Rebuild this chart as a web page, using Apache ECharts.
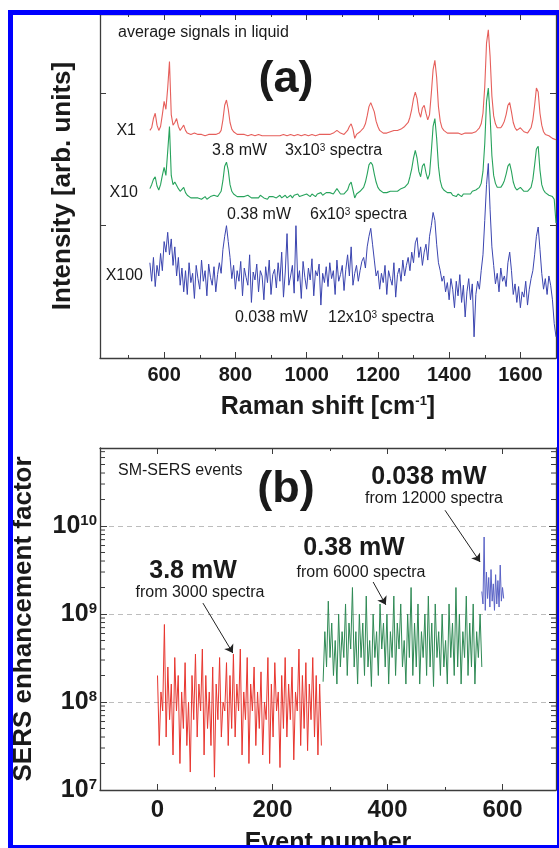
<!DOCTYPE html>
<html>
<head>
<meta charset="utf-8">
<title>SERS spectra and SM-SERS events</title>
<script src="https://cdn.jsdelivr.net/npm/echarts@6.0.0/dist/echarts.min.js"></script>
<style>
  html, body { margin: 0; padding: 0; background: #fff; }
  #main { width: 559px; height: 848px; }
</style>
</head>
<body>
<div id="main"></div>
<script>
// ---- (a) average spectra, one value every 5 cm-1 from 560 to 1700 ----
const shiftStart = 560;
const shiftStep = 5;

const spec1mW = [
  172, 174, 181, 185, 176, 172, 175, 184, 194, 188,
  204, 224, 184, 176, 178, 181, 175, 172, 174, 176,
  172, 170, 169, 169, 169, 170, 169, 169, 168, 169,
  169, 168, 169, 169, 168, 169, 170, 169, 169, 170,
  172, 180, 191, 195, 188, 178, 173, 171, 170, 169,
  169, 169, 168, 169, 169, 168, 168, 169, 168, 168,
  168, 169, 168, 168, 167, 168, 168, 168, 167, 168,
  168, 168, 167, 168, 168, 169, 168, 168, 168, 169,
  168, 168, 168, 169, 168, 168, 168, 169, 168, 168,
  168, 169, 168, 168, 169, 169, 168, 169, 169, 169,
  169, 169, 170, 170, 170, 172, 172, 170, 169, 169,
  170, 172, 175, 177, 173, 166, 169, 170, 171, 172,
  174, 177, 183, 190, 193, 192, 186, 179, 175, 172,
  171, 170, 170, 170, 171, 171, 171, 172, 172, 172,
  173, 173, 174, 175, 176, 178, 182, 188, 196, 201,
  196, 186, 182, 189, 191, 185, 180, 184, 200, 218,
  225, 212, 190, 179, 174, 172, 171, 170, 170, 170,
  170, 170, 169, 170, 170, 169, 170, 170, 170, 170,
  171, 170, 171, 171, 172, 174, 177, 185, 205, 238,
  248, 228, 198, 183, 177, 174, 173, 174, 176, 179,
  184, 191, 193, 186, 178, 174, 172, 173, 174, 173,
  171, 170, 170, 171, 174, 180, 191, 204, 201, 185,
  176, 171, 169, 168, 168, 167, 166, 166, 165
];

const spec10 = [
  128, 131, 135, 137, 130, 127, 131, 138, 144, 138,
  156, 175, 138, 131, 133, 132, 128, 126, 127, 129,
  125, 123, 122, 121, 122, 121, 120, 121, 122, 120,
  121, 122, 120, 121, 122, 121, 123, 122, 122, 124,
  126, 134, 145, 148, 142, 131, 126, 124, 123, 122,
  121, 122, 123, 122, 121, 123, 122, 121, 122, 121,
  122, 121, 123, 122, 121, 122, 120, 122, 121, 122,
  123, 121, 122, 123, 121, 122, 123, 121, 122, 123,
  121, 123, 122, 124, 122, 121, 123, 122, 124, 123,
  122, 124, 123, 122, 124, 123, 125, 123, 124, 125,
  124, 125, 126, 124, 125, 128, 126, 124, 123, 124,
  125, 127, 131, 133, 127, 121, 124, 125, 126, 127,
  129, 133, 139, 146, 148, 146, 139, 133, 129, 127,
  126, 125, 124, 125, 124, 126, 125, 126, 127, 126,
  127, 128, 127, 129, 130, 132, 137, 143, 151, 157,
  151, 141, 137, 145, 147, 140, 135, 139, 156, 175,
  181, 166, 145, 134, 129, 127, 126, 125, 124, 125,
  123, 124, 122, 124, 123, 122, 124, 123, 124, 125,
  124, 126, 125, 127, 127, 129, 132, 141, 162, 194,
  204, 183, 153, 138, 132, 129, 128, 129, 131, 134,
  139, 145, 147, 141, 133, 129, 127, 128, 129, 128,
  126, 125, 126, 127, 129, 135, 146, 158, 160, 142,
  131, 127, 125, 124, 123, 123, 122, 120, 102
];

const spec100 = [
  72, 58, 76, 54, 70, 62, 79, 66, 88, 80,
  95, 78, 90, 70, 84, 62, 76, 55, 68, 50,
  66, 48, 72, 57, 64, 45, 70, 60, 52, 74,
  58, 66, 47, 71, 61, 55, 69, 50, 63, 72,
  64, 82, 92, 100, 88, 76, 60, 70, 52, 66,
  58, 73, 47, 68, 61, 55, 78, 42, 65, 59,
  71, 50, 66, 62, 44, 69, 57, 74, 48, 63,
  67, 53, 72, 58, 80, 46, 65, 94, 55, 62,
  70, 49, 100, 58, 66, 45, 73, 61, 52, 68,
  59, 75, 47, 66, 62, 71, 40, 64, 57, 69,
  54, 72, 60, 66, 48, 74, 58, 63, 70, 51,
  67, 78, 62, 84, 55, 64, 70, 58, 66, 73,
  76, 68, 84, 92, 98, 86, 74, 62, 66, 52,
  64, 57, 70, 48, 66, 60, 55, 72, 46, 63,
  68, 58, 74, 62, 70, 76, 66, 80, 72, 87,
  91, 76, 84, 70, 80, 86, 74, 92, 100, 110,
  104, 86, 72, 66, 58, 62, 50, 57, 44, 60,
  52, 38, 58, 47, 63, 42, 55, 31, 50, 60,
  44, 56, 16, 48, 58, 52, 66, 78, 104, 131,
  147, 112, 84, 70, 56, 64, 50, 68, 58, 62,
  54, 72, 80, 66, 48, 56, 42, 54, 38, 50,
  46, 58, 40, 52, 60, 66, 78, 92, 99, 82,
  64, 52, 60, 48, 62, 55, 44, 26, 16
];

// ---- (b) SM-SERS enhancement factor per event ----
const redStart = 0, redStep = 3;       // 3.8 mW
const efRed = [
  2.0e8, 3.2e7, 1.3e8, 7.9e7, 7.6e8, 4.0e7, 2.5e8, 6.3e7, 1.6e8, 2.5e7,
  3.2e8, 7.9e7, 2.0e8, 2.0e7, 1.3e8, 5.0e7, 2.8e8, 3.2e7, 1.0e8, 1.6e7,
  2.0e8, 6.3e7, 3.5e8, 4.0e7, 1.6e8, 7.9e7, 4.0e8, 2.5e7, 2.0e8, 5.0e7,
  1.3e8, 3.2e7, 2.5e8, 1.4e7, 1.6e8, 6.3e7, 3.2e8, 4.0e7, 1.0e8, 7.9e7,
  2.8e8, 3.2e7, 2.0e8, 5.0e7, 3.5e8, 4.0e7, 1.6e8, 7.9e7, 4.0e8, 2.5e7,
  1.3e8, 6.3e7, 3.2e8, 2.0e7, 1.6e8, 7.9e7, 2.5e8, 3.2e7, 1.3e8, 5.0e7,
  2.2e8, 2.5e7, 1.0e8, 6.3e7, 3.2e8, 2.0e7, 1.6e8, 4.0e7, 2.8e8, 7.9e7,
  1.3e8, 1.8e7, 2.0e8, 5.0e7, 3.2e8, 4.0e7, 1.6e8, 6.3e7, 2.5e8, 2.2e7,
  1.3e8, 7.9e7, 4.0e8, 3.2e7, 2.0e8, 5.0e7, 2.8e8, 2.8e7, 1.6e8, 6.3e7,
  3.2e8, 4.0e7, 2.0e8, 2.5e7, 1.6e8, 3.2e7
];
const greenStart = 288, greenStep = 3; // 0.38 mW
const efGreen = [
  1.7e8, 6.3e8, 2.5e8, 1.4e9, 3.2e8, 7.9e8, 2.0e8, 5.0e8, 1.6e8, 1.0e9,
  2.5e8, 6.3e8, 3.2e8, 1.3e9, 2.0e8, 7.9e8, 4.0e8, 2.0e9, 2.5e8, 6.3e8,
  1.6e8, 1.0e9, 3.2e8, 7.9e8, 2.0e8, 1.6e9, 2.5e8, 5.0e8, 1.5e8, 1.0e9,
  3.2e8, 6.3e8, 2.0e8, 1.3e9, 4.0e8, 7.9e8, 2.5e8, 1.0e9, 1.6e8, 6.3e8,
  3.2e8, 1.6e9, 2.0e8, 7.9e8, 4.0e8, 1.3e9, 2.5e8, 5.0e8, 1.6e8, 1.0e9,
  3.2e8, 2.0e9, 2.0e8, 7.9e8, 2.5e8, 1.3e9, 1.6e8, 6.3e8, 3.2e8, 1.0e9,
  2.0e8, 1.6e9, 2.5e8, 7.9e8, 1.5e8, 1.3e9, 3.2e8, 6.3e8, 2.0e8, 1.0e9,
  2.5e8, 5.0e8, 1.6e8, 1.3e9, 3.2e8, 7.9e8, 2.0e8, 2.0e9, 2.5e8, 1.0e9,
  1.6e8, 6.3e8, 3.2e8, 1.6e9, 2.0e8, 7.9e8, 2.5e8, 1.3e9, 1.6e8, 6.3e8,
  3.2e8, 1.0e9, 2.5e8
];
const blueStart = 564, blueStep = 2;   // 0.038 mW
const efBlue = [
  1.8e9, 1.3e9, 7.5e9, 1.1e9, 3.0e9, 1.5e9, 2.6e9, 1.2e9, 3.2e9, 1.4e9,
  2.2e9, 1.1e9, 2.8e9, 1.3e9, 2.4e9, 1.2e9, 3.6e9, 1.4e9, 2.0e9, 1.5e9
];

// axis ranges
const shiftMin = 420, shiftMax = 1700;
const eventMin = -100, eventMax = 693;
const efMin = 1e7, efMax = 7.7e10;

const FONT = "'Liberation Sans', Arial, Helvetica, sans-serif";
const AXIS = '#3c3c3c';
const INK = '#1a1a1a';

const spectrum = (vals) => vals.map((v, i) => [shiftStart + i * shiftStep, v]);
const events = (vals, start, step) => vals.map((v, i) => [start + i * step, v]);

// log-spaced minor ticks (2..9 x 10^n)
const logMinorTicks = [];
for (let d = 7; d <= 10; d++) {
  for (let k = 2; k <= 9; k++) {
    const v = k * Math.pow(10, d);
    if (v < efMax) logMinorTicks.push(v);
  }
}

var chartDom = document.getElementById('main');
var myChart = echarts.init(chartDom, null, { renderer: 'canvas' });

function frameX(grid, pos, min, max, split, labels) {
  return {
    gridIndex: grid, type: 'value', position: pos, min: min, max: max, splitNumber: split,
    axisLine: { show: true, onZero: false, lineStyle: { color: AXIS, width: 1.3 } },
    axisTick: { show: true, inside: true, length: 6, lineStyle: { color: AXIS, width: 1 } },
    minorTick: { show: true, splitNumber: 2, length: 3, lineStyle: { color: AXIS, width: 1 } },
    splitLine: { show: false },
    axisLabel: labels ? Object.assign({
      showMinLabel: false, showMaxLabel: false, fontWeight: 'bold', color: INK, fontFamily: FONT,
      formatter: (v) => String(v)
    }, labels) : { show: false }
  };
}

function txt(x, y, text, size, bold, align, rich) {
  const st = {
    text: text, x: 0, y: 0,
    fontSize: size, fontFamily: FONT, fontWeight: bold ? 'bold' : 'normal',
    fill: INK, align: align || 'left', verticalAlign: 'middle'
  };
  if (rich) st.rich = rich;
  return { type: 'text', x: x, y: y, silent: true, z: 50, style: st };
}
const sup = { s: { fontSize: 10, fontFamily: FONT, fill: INK, verticalAlign: 'top', lineHeight: 10 } };

var option = {
  animation: false,
  backgroundColor: '#fff',
  textStyle: { fontFamily: FONT },
  grid: [
    { left: 100, top: 14, width: 456, height: 344, outerBoundsMode: 'none' },
    { left: 100, top: 448, width: 456, height: 342, outerBoundsMode: 'none' }
  ],
  xAxis: [
    Object.assign(frameX(0, 'bottom', shiftMin, shiftMax, 6, { fontSize: 20, margin: 7 }), {
      name: '{t|Raman shift [cm}{s|-1}{t|]}', nameLocation: 'middle', nameGap: 37,
      nameTextStyle: {
        rich: {
          t: { fontSize: 25, fontWeight: 'bold', color: INK, fontFamily: FONT, verticalAlign: 'middle' },
          s: { fontSize: 13, fontWeight: 'bold', color: INK, fontFamily: FONT, verticalAlign: 'top', lineHeight: 13 }
        }
      }
    }),
    frameX(0, 'top', shiftMin, shiftMax, 6, null),
    Object.assign(frameX(1, 'bottom', eventMin, eventMax, 4, { fontSize: 24, margin: 8 }), {
      name: 'Event number', nameLocation: 'middle', nameGap: 41,
      nameTextStyle: { fontSize: 25, fontWeight: 'bold', color: INK, fontFamily: FONT }
    }),
    frameX(1, 'top', eventMin, eventMax, 4, null)
  ],
  yAxis: [
    {
      gridIndex: 0, type: 'value', position: 'left', min: 0, max: 260, interval: 100,
      axisLine: { show: true, onZero: false, lineStyle: { color: AXIS, width: 1.3 } },
      axisTick: { show: true, inside: true, length: 6, lineStyle: { color: AXIS } },
      axisLabel: { show: false }, splitLine: { show: false },
      name: 'Intensity [arb. units]', nameLocation: 'middle', nameGap: 24,
      nameTextStyle: { fontSize: 26, fontWeight: 'bold', color: INK, fontFamily: FONT }
    },
    {
      gridIndex: 0, type: 'value', position: 'right', min: 0, max: 260, interval: 100,
      axisLine: { show: true, onZero: false, lineStyle: { color: AXIS, width: 1.3 } },
      axisTick: { show: true, inside: true, length: 6, lineStyle: { color: AXIS } },
      axisLabel: { show: false }, splitLine: { show: false }
    },
    {
      gridIndex: 1, type: 'log', logBase: 10, position: 'left', min: efMin, max: efMax,
      axisLine: { show: true, onZero: false, lineStyle: { color: AXIS, width: 1.3 } },
      axisTick: { show: true, inside: true, length: 7, lineStyle: { color: AXIS } },
      splitLine: { show: true, lineStyle: { color: '#bdbdbd', width: 1, type: [5, 4] } },
      axisLabel: {
        margin: 3, showMaxLabel: false,
        formatter: (v) => '{b|10}{s|' + Math.round(Math.log10(v)) + '}',
        rich: {
          b: { fontSize: 25, fontWeight: 'bold', color: INK, fontFamily: FONT, verticalAlign: 'middle', lineHeight: 26 },
          s: { fontSize: 15, fontWeight: 'bold', color: INK, fontFamily: FONT, verticalAlign: 'top', lineHeight: 15 }
        }
      },
      name: 'SERS enhancement factor', nameLocation: 'middle', nameGap: 63,
      nameTextStyle: { fontSize: 26, fontWeight: 'bold', color: INK, fontFamily: FONT }
    },
    {
      gridIndex: 1, type: 'log', logBase: 10, position: 'right', min: efMin, max: efMax,
      axisLine: { show: true, onZero: false, lineStyle: { color: AXIS, width: 1.3 } },
      axisTick: { show: true, inside: true, length: 7, lineStyle: { color: AXIS } },
      axisLabel: { show: false }, splitLine: { show: false }
    }
  ],
  series: [
    { name: 'X1', type: 'line', xAxisIndex: 0, yAxisIndex: 0, data: spectrum(spec1mW),
      showSymbol: false, lineStyle: { color: '#e65f5b', width: 1.1 }, silent: true },
    { name: 'X10', type: 'line', xAxisIndex: 0, yAxisIndex: 0, data: spectrum(spec10),
      showSymbol: false, lineStyle: { color: '#27a35c', width: 1.1 }, silent: true },
    { name: 'X100', type: 'line', xAxisIndex: 0, yAxisIndex: 0, data: spectrum(spec100),
      showSymbol: false, lineStyle: { color: '#3b45b0', width: 1 }, silent: true },

    { name: '3.8 mW', type: 'line', xAxisIndex: 2, yAxisIndex: 2, data: events(efRed, redStart, redStep),
      showSymbol: false, lineStyle: { color: '#e8362f', width: 1 }, silent: true,
      markLine: {
        silent: true, animation: false, symbol: ['none', 'arrow'], symbolSize: 8,
        label: { show: false },
        lineStyle: { color: '#222', width: 1, type: 'solid' },
        emphasis: { disabled: true },
        data: [
          [{ coord: [79, 1.33e9] }, { coord: [131, 3.6e8] }],
          [{ coord: [375, 2.31e9] }, { coord: [397, 1.27e9] }],
          [{ coord: [500, 1.51e10] }, { coord: [561, 3.9e9] }]
        ]
      } },
    { name: '0.38 mW', type: 'line', xAxisIndex: 2, yAxisIndex: 2, data: events(efGreen, greenStart, greenStep),
      showSymbol: false, lineStyle: { color: '#2f8a55', width: 1 }, silent: true },
    { name: '0.038 mW', type: 'line', xAxisIndex: 2, yAxisIndex: 2, data: events(efBlue, blueStart, blueStep),
      showSymbol: false, lineStyle: { color: '#5962c6', width: 1 }, silent: true },

    // log-spaced minor ticks on the left and right frame of (b)
    { type: 'custom', xAxisIndex: 2, yAxisIndex: 2, silent: true, clip: false, z: 5,
      data: logMinorTicks.map(v => [eventMin, v]),
      renderItem: function (params, api) {
        const l = api.coord([eventMin, api.value(1)]);
        const r = api.coord([eventMax, api.value(1)]);
        return { type: 'group', children: [
          { type: 'line', shape: { x1: l[0], y1: l[1], x2: l[0] + 5, y2: l[1] }, style: { stroke: AXIS, lineWidth: 1 } },
          { type: 'line', shape: { x1: r[0], y1: r[1], x2: r[0] - 5, y2: r[1] }, style: { stroke: AXIS, lineWidth: 1 } }
        ] };
      } }
  ],
  graphic: [
    // panel (a) annotations
    txt(118, 33, 'average signals in liquid', 16, false),
    txt(286, 80, '(a)', 45, true, 'center'),
    txt(136, 131, 'X1', 16, false, 'right'),
    txt(138, 193, 'X10', 16, false, 'right'),
    txt(143, 276, 'X100', 16, false, 'right'),
    txt(212, 151, '3.8 mW', 16, false),
    txt(285, 151, '3x10{s|3} spectra', 16, false, 'left', sup),
    txt(227, 215, '0.38 mW', 16, false),
    txt(310, 215, '6x10{s|3} spectra', 16, false, 'left', sup),
    txt(235, 318, '0.038 mW', 16, false),
    txt(328, 318, '12x10{s|3} spectra', 16, false, 'left', sup),
    // panel (b) annotations
    txt(118, 471, 'SM-SERS events', 16, false),
    txt(286, 490, '(b)', 45, true, 'center'),
    txt(193, 571, '3.8 mW', 25, true, 'center'),
    txt(200, 593, 'from 3000 spectra', 16, false, 'center'),
    txt(354, 548, '0.38 mW', 25, true, 'center'),
    txt(361, 573, 'from 6000 spectra', 16, false, 'center'),
    txt(429, 477, '0.038 mW', 25, true, 'center'),
    txt(434, 499, 'from 12000 spectra', 16, false, 'center'),
    // blue frame around the figure
    { type: 'rect', silent: true, z: 100,
      shape: { x: 10.5, y: 12.5, width: 549, height: 835 },
      style: { fill: 'none', stroke: '#0000ff', lineWidth: 5 } }
  ]
};

option && myChart.setOption(option);
</script>
</body>
</html>
